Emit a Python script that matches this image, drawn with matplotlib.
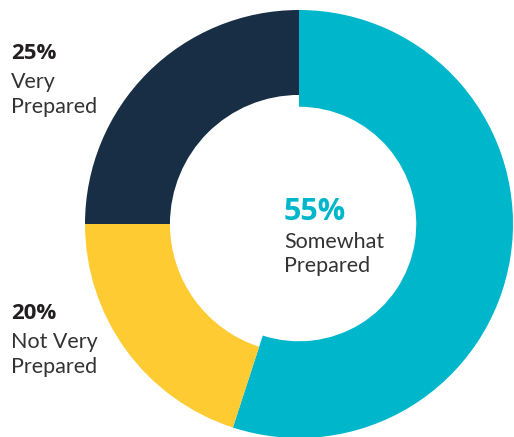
import matplotlib
matplotlib.use("Agg")
import matplotlib.pyplot as plt

categories = ["Somewhat Prepared", "Not Very Prepared", "Very Prepared"]
values = [55, 20, 25]
colors = ["#00B6CB", "#FFCB33", "#172E44"]
ring_widths = [0.452, 0.397, 0.397]

W, H = 514, 437
fig = plt.figure(figsize=(W / 100, H / 100), dpi=100)
ax = fig.add_axes([0, 0, 1, 1])

wedges, _ = ax.pie(values, colors=colors, startangle=90, counterclock=False,
                   radius=1.0, wedgeprops=dict(linewidth=0))
for w, rw in zip(wedges, ring_widths):
    w.set_width(rw)

cx, cy, R = 299, 224, 214
ax.set_xlim(-cx / R, (W - cx) / R)
ax.set_ylim(-(H - cy) / R, cy / R)
ax.set_aspect("auto")
ax.axis("off")

pfont = "Open Sans"
lfont = "Lato"
dark = "#231F20"
gray = "#333333"

def px(x, y_top):
    return x / W, 1 - y_top / H

# Very Prepared
fig.text(*px(11, 59), "25%", fontsize=16, fontweight="bold", color=dark,
         family=pfont, va="baseline", ha="left")
fig.text(*px(11, 88), "Very", fontsize=15.5, color=gray, family=lfont,
         va="baseline", ha="left")
fig.text(*px(11, 113), "Prepared", fontsize=15.5, color=gray, family=lfont,
         va="baseline", ha="left")

# Not Very Prepared
fig.text(*px(11, 319), "20%", fontsize=16, fontweight="bold", color=dark,
         family=pfont, va="baseline", ha="left")
fig.text(*px(11, 348), "Not Very", fontsize=15.5, color=gray, family=lfont,
         va="baseline", ha="left")
fig.text(*px(11, 373), "Prepared", fontsize=15.5, color=gray, family=lfont,
         va="baseline", ha="left")

# Somewhat Prepared
fig.text(*px(284, 220), "55%", fontsize=22, fontweight="bold", color=colors[0],
         family=pfont, va="baseline", ha="left")
fig.text(*px(284, 248), "Somewhat", fontsize=15.5, color=gray, family=lfont,
         va="baseline", ha="left")
fig.text(*px(284, 272), "Prepared", fontsize=15.5, color=gray, family=lfont,
         va="baseline", ha="left")

fig.savefig("out.png", dpi=100)
